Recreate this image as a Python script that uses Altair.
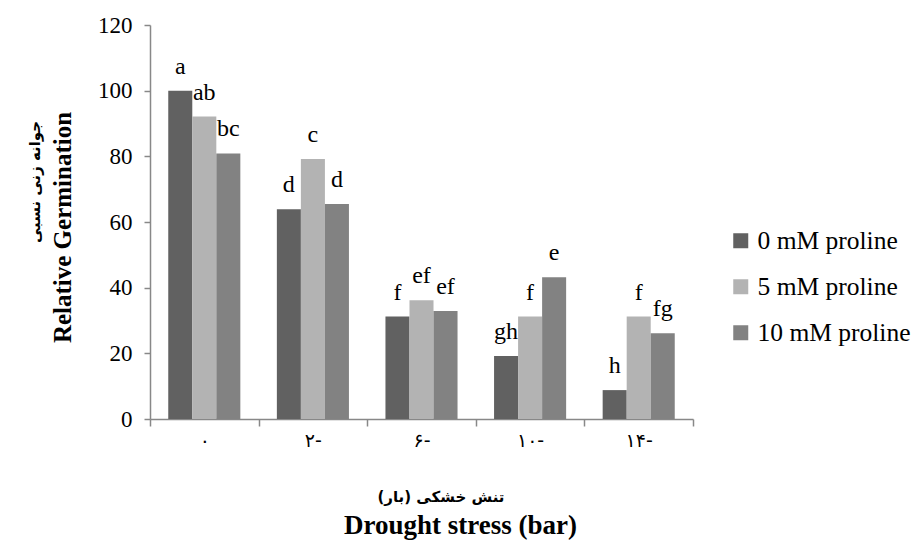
import altair as alt
import pandas as pd

stress = ["۰", "۲-", "۶-", "۱۰-", "۱۴-"]
treatments = ["0 mM proline", "5 mM proline", "10 mM proline"]
v0 = [100, 63.9, 31.2, 19.2, 8.8]
v5 = [92.1, 79.2, 36.2, 31.2, 31.2]
v10 = [80.9, 65.5, 32.9, 43.2, 26.1]
l0 = ["a", "d", "f", "gh", "h"]
l5 = ["ab", "c", "ef", "f", "f"]
l10 = ["bc", "d", "ef", "e", "fg"]
colors = ["#616161", "#b3b3b3", "#828282"]
y_ticks = [0, 20, 40, 60, 80, 100, 120]

rows = []
for t, vals, labs in zip(treatments, [v0, v5, v10], [l0, l5, l10]):
    for s, v, l in zip(stress, vals, labs):
        rows.append({"stress": s, "treat": t, "value": v, "letter": l})
df = pd.DataFrame(rows)

W, H = 543, 394
serif = "Liberation Serif"
axis_grey = "#888888"

x_enc = alt.X(
    "stress:N", sort=stress,
    scale=alt.Scale(paddingInner=0, paddingOuter=0),
    axis=alt.Axis(
        title="Drought stress (bar)", titleFont=serif, titleFontSize=27,
        titleFontWeight="bold", titleColor="black", titleX=310, titleY=106,
        titleBaseline="middle",
        labelAngle=0, labelFont="DejaVu Sans", labelFontSize=19, labelColor="black",
        labelPadding=5, tickBand="extent", tickSize=7, tickColor=axis_grey,
        domainColor=axis_grey, domainWidth=1.5, tickWidth=1.5,
    ),
)
xo_enc = alt.XOffset("treat:N", sort=treatments,
                     scale=alt.Scale(paddingInner=0, paddingOuter=0.76))
y_enc = alt.Y(
    "value:Q", scale=alt.Scale(domain=[0, 120]),
    axis=alt.Axis(
        values=y_ticks, grid=False, title="Relative Germination",
        titleFont=serif, titleFontSize=25, titleFontWeight="bold",
        titleColor="black", titleX=-88, titleY=H / 2 + 5, titleAngle=270,
        titleBaseline="middle", titleAlign="center",
        labelFont=serif, labelFontSize=23, labelColor="black", labelPadding=12,
        tickSize=6, tickColor=axis_grey, domainColor=axis_grey,
        domainWidth=1.5, tickWidth=1.5,
    ),
)

base = alt.Chart(df).encode(x=x_enc, xOffset=xo_enc, y=y_enc)

bars = base.mark_bar().encode(
    color=alt.Color(
        "treat:N", sort=treatments,
        scale=alt.Scale(domain=treatments, range=colors),
        legend=alt.Legend(
            title=None, orient="none", legendX=578, legendY=203,
            symbolType="square", symbolSize=225, symbolStrokeWidth=0,
            symbolOpacity=1, labelFont=serif, labelFontSize=25.5,
            labelColor="black", labelOffset=4, rowPadding=19,
        ),
    )
)

labels = base.mark_text(
    baseline="alphabetic", dy=-17, font=serif, fontSize=24, color="black"
).encode(text="letter:N")

titles_df = pd.DataFrame({"t": ["جوانه زنی نسبی", "تنش خشکی (بار)"],
                          "kind": ["y", "x"]})
y_fa = alt.Chart(titles_df).transform_filter("datum.kind == 'y'").mark_text(
    font="DejaVu Sans", fontSize=15, fontWeight="bold", angle=270,
    baseline="middle", align="center", color="black"
).encode(x=alt.value(-115), y=alt.value(157), text="t:N")
x_fa = alt.Chart(titles_df).transform_filter("datum.kind == 'x'").mark_text(
    font="DejaVu Sans", fontSize=15, fontWeight="bold",
    baseline="middle", align="center", color="black"
).encode(x=alt.value(291), y=alt.value(H + 78), text="t:N")

chart = alt.layer(bars, labels, y_fa, x_fa).properties(
    width=W, height=H,
    autosize=alt.AutoSizeParams(type="none"),
    padding={"left": 150, "top": 25, "right": 913 - 150 - W, "bottom": 543 - 25 - H},
    background="white",
).configure_view(stroke=None)

chart.save("out.html", embed_options={"renderer": "svg", "actions": False})
